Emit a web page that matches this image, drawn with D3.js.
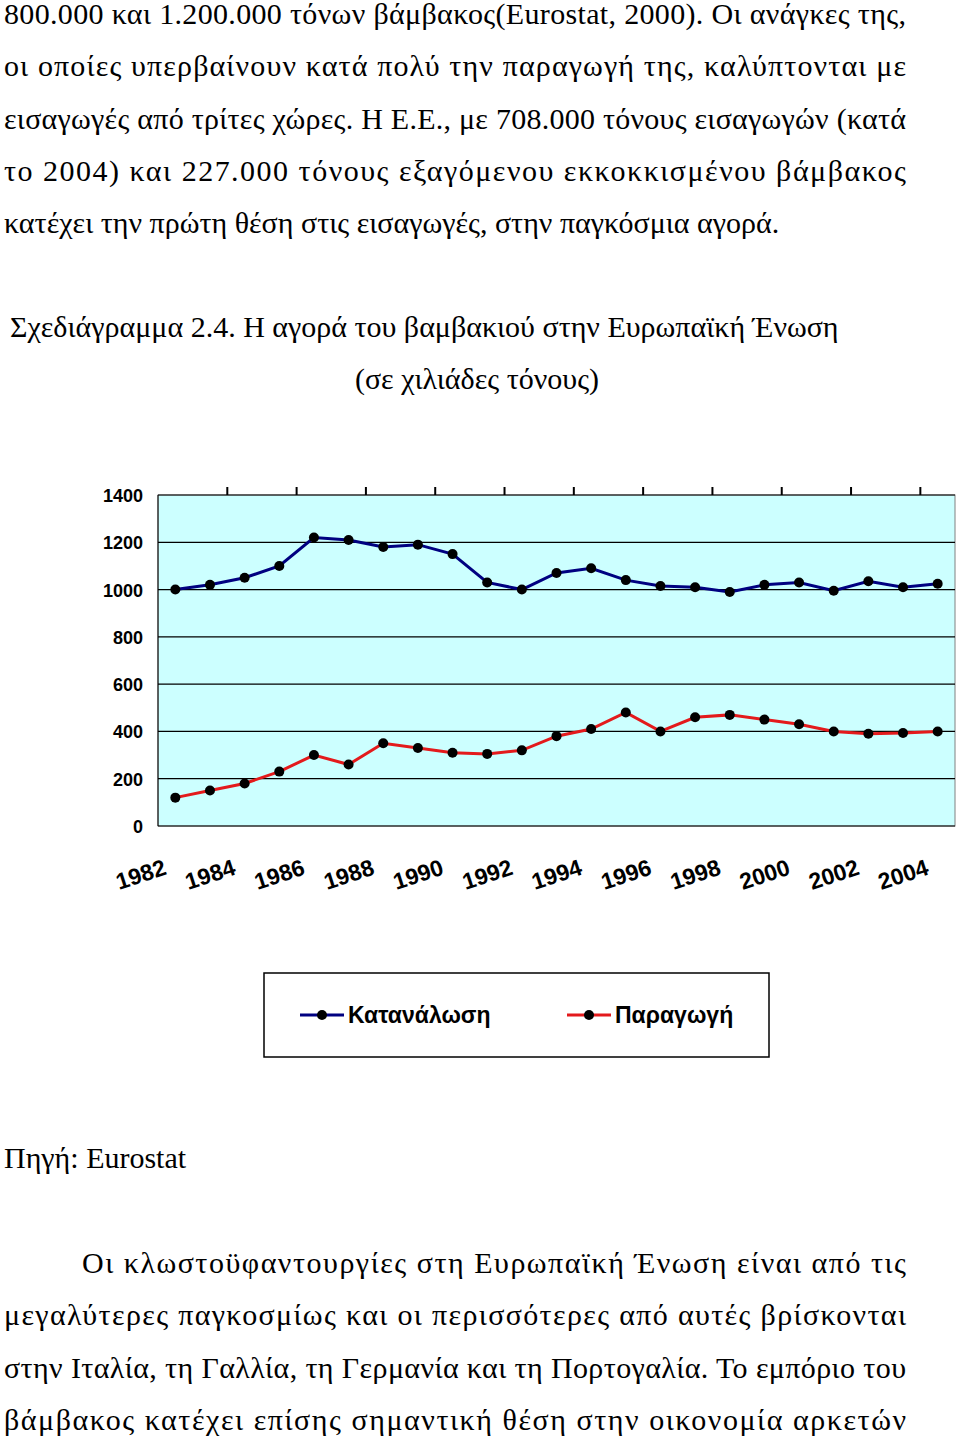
<!DOCTYPE html>
<html><head><meta charset="utf-8">
<script src="https://cdn.jsdelivr.net/npm/d3@7"></script>
<style>body{margin:0;background:#fff}</style>
</head><body>
<script>
var years = d3.range(1982, 2005);
var consumption = [1000,1020,1050,1100,1220,1210,1180,1190,1150,1030,1000,1070,1090,1040,1015,1010,990,1020,1030,995,1035,1010,1025];
var production = [120,150,180,230,300,260,350,330,310,305,320,380,410,480,400,460,470,450,430,400,390,393,400];
var yTicks = [0,200,400,600,800,1000,1200,1400];
var xLabels = [1982,1984,1986,1988,1990,1992,1994,1996,1998,2000,2002,2004];

var svg = d3.select('body').append('svg').attr('width',960).attr('height',1439);
var serif = '"Liberation Serif","Times New Roman",serif';

function textLines(lines, y0) {
  lines.forEach(function(l, i) {
    var t = svg.append('text').attr('x', l.x || 4).attr('y', y0 + i*52.3)
      .style('font-family', serif).style('font-size','30px').text(l.t);
    if (l.j) t.attr('textLength', 906 - (l.x || 4)).attr('lengthAdjust','spacing');
  });
}
textLines([
  {t:'800.000 και 1.200.000 τόνων βάμβακος(Eurostat, 2000). Οι ανάγκες της,', j:1},
  {t:'οι οποίες υπερβαίνουν κατά πολύ την παραγωγή της, καλύπτονται με', j:1},
  {t:'εισαγωγές από τρίτες χώρες. Η Ε.Ε., με 708.000 τόνους εισαγωγών (κατά', j:1},
  {t:'το 2004) και 227.000 τόνους εξαγόμενου εκκοκκισμένου βάμβακος', j:1},
  {t:'κατέχει την πρώτη θέση στις εισαγωγές, στην παγκόσμια αγορά.'}
], 24);
svg.append('text').attr('x',10).attr('y',337).style('font-family',serif).style('font-size','30px')
  .text('Σχεδιάγραμμα 2.4. Η αγορά του βαμβακιού στην Ευρωπαϊκή Ένωση');
svg.append('text').attr('x',477).attr('y',389).attr('text-anchor','middle').style('font-family',serif).style('font-size','30px')
  .text('(σε χιλιάδες τόνους)');

var L = 158, R = 955, T = 495, B = 826;
var x = d3.scaleBand().domain(years).range([L, R]);
var y = d3.scaleLinear().domain([0,1400]).range([B, T]);
var g = svg.append('g');
g.append('rect').attr('x',L).attr('y',T).attr('width',R-L).attr('height',B-T)
  .attr('fill','#ccffff').attr('stroke','#808080');
g.selectAll('.grid').data(yTicks).enter().append('line')
  .attr('x1',L).attr('x2',R).attr('y1',y).attr('y2',y).attr('stroke','#000').attr('stroke-width',1.2);
g.append('line').attr('x1',L).attr('x2',L).attr('y1',T).attr('y2',B).attr('stroke','#000');
g.selectAll('.yl').data(yTicks).enter().append('text')
  .attr('x',143).attr('y',function(d){return y(d)+7;}).attr('text-anchor','end')
  .style('font-family','"Liberation Sans",Arial,sans-serif').style('font-weight','bold').style('font-size','18px')
  .text(function(d){return d;});
g.selectAll('.tt').data(years.filter(function(d,i){return i%2===0 && i>0;})).enter().append('line')
  .attr('x1',function(d){return x(d);}).attr('x2',function(d){return x(d);})
  .attr('y1',T-8).attr('y2',T).attr('stroke','#000').attr('stroke-width',2);
g.selectAll('.xl').data(xLabels).enter().append('text')
  .attr('transform',function(d){return 'translate('+(x(d)+x.bandwidth()/2-32)+',882) rotate(-18)';})
  .attr('text-anchor','middle')
  .style('font-family','"Liberation Sans",Arial,sans-serif').style('font-weight','bold').style('font-size','23px')
  .text(function(d){return d;});

function series(vals, color) {
  var line = d3.line().x(function(d,i){return x(years[i])+x.bandwidth()/2;}).y(function(d){return y(d);});
  g.append('path').datum(vals).attr('d',line).attr('fill','none').attr('stroke',color).attr('stroke-width',3);
  g.selectAll(null).data(vals).enter().append('circle')
    .attr('cx',function(d,i){return x(years[i])+x.bandwidth()/2;}).attr('cy',function(d){return y(d);})
    .attr('r',5).attr('fill','#000');
}
series(consumption, '#000080');
series(production, '#e31a1c');

svg.append('rect').attr('x',264).attr('y',973).attr('width',505).attr('height',84).attr('fill','none').attr('stroke','#000').attr('stroke-width',1.5);
[['Κατανάλωση','#000080',300],['Παραγωγή','#e31a1c',567]].forEach(function(l){
  svg.append('line').attr('x1',l[2]).attr('x2',l[2]+44).attr('y1',1015).attr('y2',1015).attr('stroke',l[1]).attr('stroke-width',3);
  svg.append('circle').attr('cx',l[2]+22).attr('cy',1015).attr('r',5).attr('fill','#000');
  svg.append('text').attr('x',l[2]+48).attr('y',1023).style('font-family','"Liberation Sans",Arial,sans-serif')
    .style('font-weight','bold').style('font-size','23px').text(l[0]);
});

svg.append('text').attr('x',4).attr('y',1168).style('font-family',serif).style('font-size','30px').text('Πηγή:  Eurostat');
textLines([
  {t:'Οι κλωστοϋφαντουργίες στη  Ευρωπαϊκή Ένωση είναι από τις', x:82, j:1},
  {t:'μεγαλύτερες παγκοσμίως και οι περισσότερες από αυτές  βρίσκονται', j:1},
  {t:'στην Ιταλία,  τη Γαλλία, τη Γερμανία και τη Πορτογαλία. Το εμπόριο του', j:1},
  {t:'βάμβακος κατέχει επίσης σημαντική θέση στην οικονομία αρκετών', j:1}
], 1273);
</script>
</body></html>
